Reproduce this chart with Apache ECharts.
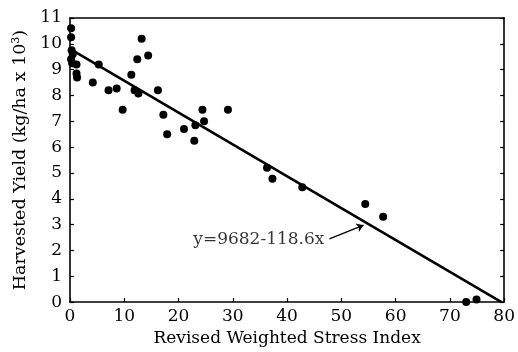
<!DOCTYPE html>
<html>
<head>
<meta charset="utf-8">
<script src="https://cdn.jsdelivr.net/npm/echarts@6/dist/echarts.min.js"></script>
<style>html,body{margin:0;padding:0;background:#fff;}#c{width:518px;height:352px;}</style>
</head>
<body>
<div id="c"></div>
<script>
// Data
var stressIndex = [0.2, 0.2, 0.3, 0.5, 0.2, 0.4, 1.2, 1.2, 1.3, 4.2, 5.3, 7.1, 8.6, 9.7, 11.3, 11.9, 12.4, 12.6, 13.2, 14.4, 16.2, 17.2, 17.9, 21.0, 22.9, 23.1, 24.4, 24.7, 29.1, 36.3, 37.3, 42.8, 54.4, 57.7, 73.0, 74.9];
var yieldVals   = [10.6, 10.25, 9.75, 9.6, 9.4, 9.25, 9.2, 8.85, 8.7, 8.5, 9.2, 8.2, 8.27, 7.45, 8.8, 8.2, 9.4, 8.08, 10.2, 9.55, 8.2, 7.25, 6.5, 6.7, 6.25, 6.85, 7.45, 7.0, 7.45, 5.2, 4.78, 4.45, 3.8, 3.3, 0.0, 0.1];
var fitX = [0, 79.5];
var fitY = [9.8, 0];
var equationText = 'y=9682-118.6x';
var equationPos = [34.8, 2.42];
var arrowFrom = [47.8, 2.45];
var arrowTo = [54.1, 2.98];
var xTicks = [0, 10, 20, 30, 40, 50, 60, 70, 80];
var yTicks = [0, 1, 2, 3, 4, 5, 6, 7, 8, 9, 10, 11];

var FONT = 'DejaVu Serif';
var chart = echarts.init(document.getElementById('c'), null, {renderer: 'canvas'});
var pts = stressIndex.map(function (x, i) { return [x, yieldVals[i]]; });
var fit = fitX.map(function (x, i) { return [x, fitY[i]]; });

var axisLineStyle = {color: '#000', width: 1.6};
chart.setOption({
  backgroundColor: '#fff',
  animation: false,
  grid: {left: 70, right: 13, top: 18, bottom: 46},
  xAxis: [{
    type: 'value', min: xTicks[0], max: xTicks[xTicks.length - 1], interval: 10,
    axisLine: {show: true, onZero: false, lineStyle: axisLineStyle},
    axisTick: {show: true, inside: true, length: 4, lineStyle: {color: '#000', width: 1.2}},
    axisLabel: {color: '#000', fontFamily: FONT, fontSize: 17, margin: 6},
    splitLine: {show: false},
    name: 'Revised Weighted Stress Index', nameLocation: 'middle', nameGap: 25,
    nameTextStyle: {color: '#000', fontFamily: FONT, fontSize: 17}
  }, {
    type: 'value', position: 'top', min: 0, max: 80, interval: 10,
    axisLine: {show: true, onZero: false, lineStyle: axisLineStyle},
    axisTick: {show: false}, axisLabel: {show: false}, splitLine: {show: false}
  }],
  yAxis: [{
    type: 'value', min: yTicks[0], max: yTicks[yTicks.length - 1], interval: 1,
    axisLine: {show: true, onZero: false, lineStyle: axisLineStyle},
    axisTick: {show: true, inside: true, length: 4, lineStyle: {color: '#000', width: 1.2}},
    axisLabel: {color: '#000', fontFamily: FONT, fontSize: 17, margin: 8},
    splitLine: {show: false},
    name: 'Harvested Yield (kg/ha x 10{sup|3})', nameLocation: 'middle', nameGap: 39,
    nameTextStyle: {color: '#000', fontFamily: FONT, fontSize: 17.5,
      rich: {sup: {fontFamily: FONT, fontSize: 11, verticalAlign: 'top', padding: [0, 0, 8, 0], color: '#000'}}}
  }, {
    type: 'value', position: 'right', min: 0, max: 11, interval: 1,
    axisLine: {show: true, onZero: false, lineStyle: axisLineStyle},
    axisTick: {show: true, inside: true, length: 4, lineStyle: {color: '#000', width: 1.2}},
    axisLabel: {show: false}, splitLine: {show: false}
  }],
  series: [{
    type: 'scatter', data: pts, symbol: 'circle', symbolSize: 8,
    itemStyle: {color: '#000', opacity: 1}, z: 3
  }, {
    type: 'line', data: fit, symbol: 'none',
    lineStyle: {color: '#000', width: 2.6}, z: 2,
    markLine: {
      silent: true, symbol: ['none', 'arrow'], symbolSize: 7,
      lineStyle: {color: '#000', width: 1.3, type: 'solid'},
      label: {show: false},
      data: [[{coord: arrowFrom}, {coord: arrowTo}]]
    }
  }, {
    type: 'scatter', data: [equationPos], symbolSize: 0,
    label: {show: true, position: 'inside', formatter: equationText,
      color: '#000', fontFamily: FONT, fontSize: 17}
  }]
});
</script>
</body>
</html>
